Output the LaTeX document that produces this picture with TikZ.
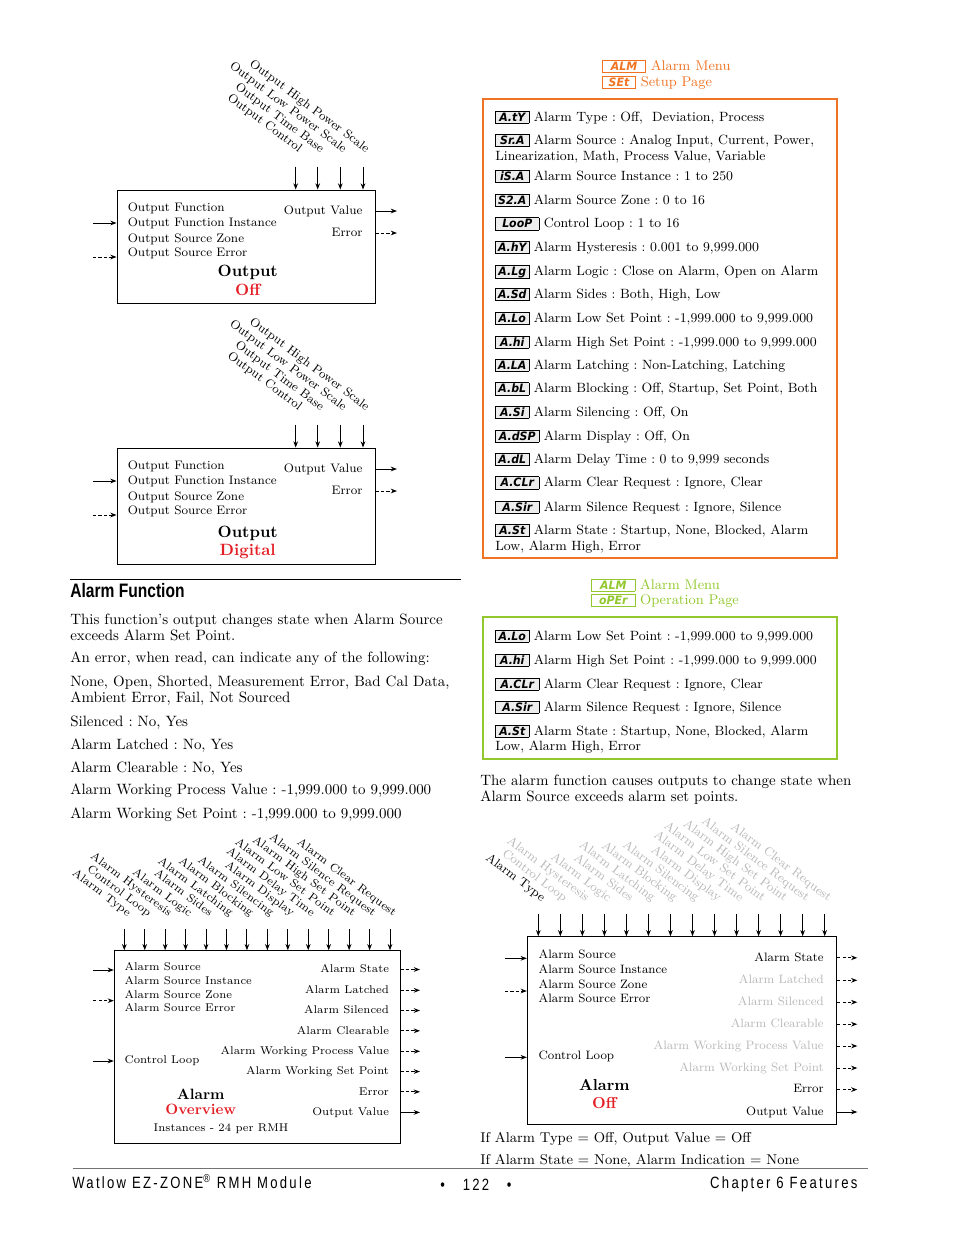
\documentclass[tikz,border=0pt]{standalone}
\usepackage{fontspec}
\newfontfamily\segfont[FakeStretch=0.95]{DejaVu Sans}
\newfontfamily\headfont[FakeStretch=0.8]{Liberation Sans}
\newfontfamily\footfont[FakeStretch=0.8,LetterSpace=14]{Liberation Sans}
\usetikzlibrary{positioning,arrows.meta,fit}
\definecolor{almred}{RGB}{227,30,36}
\definecolor{setorange}{RGB}{240,115,35}
\definecolor{opgreen}{RGB}{146,200,45}
\definecolor{dim}{gray}{0.72}
\definecolor{segbg}{gray}{0.93}
\frenchspacing
% display prompt: frame/letter colour, fill, width, letters
\newcommand{\segicon}[4]{{\setlength{\fboxsep}{0.6pt}\setlength{\fboxrule}{0.45pt}%
  \fcolorbox{#1}{#2}{\makebox[#3][c]{\rule[-0.6pt]{0pt}{6.2pt}\color{#1}\segfont\bfseries\itshape\fontsize{7.4}{7}\selectfont #4}}}}
\newcommand{\segN}[1]{\segicon{black}{segbg}{19.7pt}{#1}}
\newcommand{\segW}[1]{\segicon{black}{segbg}{26.1pt}{#1}}
\tikzset{
  blk/.style={draw, line width=0.6pt, inner sep=0pt},
  arr/.style={-{Stealth[length=4pt,width=3pt]}, line width=0.6pt},
  darr/.style={arr, dash pattern=on 2pt off 1.5pt},
  olbl/.style={font=\fontsize{7.9}{9}\selectfont, inner sep=0pt},
  albl/.style={font=\fontsize{7.2}{8}\selectfont, inner sep=0pt},
  blbl/.style={font=\fontsize{7.8}{9}\selectfont, inner sep=0pt},
  ttl/.style={font=\fontsize{10.5}{11}\selectfont\bfseries, inner sep=0pt},
  attl/.style={font=\fontsize{9.6}{10}\selectfont\bfseries, inner sep=0pt},
  body/.style={font=\fontsize{9.6}{11}\selectfont, inner sep=0pt, anchor=mid west},
  lst/.style={font=\fontsize{8.6}{10}\selectfont, inner sep=0pt, anchor=mid west},
  menu/.style={font=\fontsize{9}{10}\selectfont, inner sep=0pt, anchor=mid west}
}
\begin{document}
\begin{tikzpicture}[x=0.6415pt, y=-0.6415pt]
  \useasboundingbox (0,0) rectangle (954,1235);

  % output blocks
  \foreach \nm/\dy/\ex/\mode in {oa/0/0/Off, ob/258/3/Digital}{
    \begin{scope}[shift={(0,\dy)}]
      \node[blk, fit={(117,190) (375,{303+\ex})}] (\nm) {};
      \node[olbl, anchor=mid west] (\nm-f) at (127.5,207.7) {Output Function};
      \node[olbl, anchor=mid west] (\nm-fi) at (127.5,223.5) {Output Function Instance};
      \node[olbl, anchor=mid west] (\nm-sz) at (127.5,238.7) {Output Source Zone};
      \node[olbl, anchor=mid west] (\nm-se) at (127.5,253.5) {Output Source Error};
      \node[olbl, anchor=mid east] (\nm-v) at (362.7,211) {Output Value};
      \node[olbl, anchor=mid east] (\nm-e) at (362.7,233) {Error};
      \node[ttl] (\nm-t) at (247.7,{272.7+\ex}) {Output};
      \node[ttl, text=almred] (\nm-m) at (247.7,{290+\ex}) {\mode};
      \coordinate (\nm-i1) at (93,223);
      \coordinate (\nm-i2) at (93,257);
      \coordinate (\nm-o1) at (397,211);
      \coordinate (\nm-o2) at (397,233);
      \draw[arr] (\nm-i1) -- (\nm-i1 -| \nm.west);
      \draw[darr] (\nm-i2) -- (\nm-i2 -| \nm.west);
      \draw[arr] (\nm-o1 -| \nm.east) -- (\nm-o1);
      \draw[darr] (\nm-o2 -| \nm.east) -- (\nm-o2);
      \foreach \x/\lab [count=\k] in {295.7/Output Control, 317.7/Output Time Base,
          340.3/Output Low Power Scale, 363/Output High Power Scale}{
        \coordinate (\nm-p\k) at (\x,166.7);
        \draw[arr] (\nm-p\k) -- (\nm-p\k |- \nm.north);
        \node[olbl, rotate=-37, anchor=base east] (\nm-pl\k) at ({\x+3},153.2) {\lab};
      }
    \end{scope}
  }

  % alarm function text
  \draw[line width=0.6pt] (70,579) -- (461,579);
  \node[inner sep=0pt, anchor=mid west, font=\headfont\bfseries\fontsize{12.5}{13}\selectfont] (hd) at (70,594) {Alarm Function};
  \node[body] (t1) at (70,621.5) {This function's output changes state when Alarm Source};
  \node[body] (t2) at (70,637.5) {exceeds Alarm Set Point.};
  \node[body] (t3) at (70,659.5) {An error, when read, can indicate any of the following:};
  \node[body] (t4) at (70,683.3) {None, Open, Shorted, Measurement Error, Bad Cal Data,};
  \node[body] (t5) at (70,699.5) {Ambient Error, Fail, Not Sourced};
  \node[body] (t6) at (70,723.5) {Silenced : No, Yes};
  \node[body] (t7) at (70,746) {Alarm Latched : No, Yes};
  \node[body] (t8) at (70,769) {Alarm Clearable : No, Yes};
  \node[body] (t9) at (70,791.5) {Alarm Working Process Value : -1,999.000 to 9,999.000};
  \node[body] (t10) at (70,815.5) {Alarm Working Set Point : -1,999.000 to 9,999.000};

  % setup page menu
  \node[menu, text=setorange] (sh1) at (601.7,66.7) {\segicon{setorange}{white}{26.1pt}{ALM} Alarm Menu};
  \node[menu, text=setorange] (sh2) at (601.7,82.7) {\segicon{setorange}{white}{19.7pt}{SEt} Setup Page};
  \node[draw=setorange, line width=1.4pt, inner sep=0pt, fit={(482.7,99) (837.3,557.7)}] (setup) {};
  \node[lst] (s1) at (495,117.7) {\segN{A.tY} Alarm Type : Off,\ \ Deviation, Process};
  \node[lst] (s2) at (495,141) {\segN{Sr.A} Alarm Source : Analog Input, Current, Power,};
  \node[lst] (s2b) at (495,157.5) {Linearization, Math, Process Value, Variable};
  \node[lst] (s3) at (495,177) {\segN{iS.A} Alarm Source Instance : 1 to 250};
  \node[lst] (s4) at (495,200.7) {\segN{S2.A} Alarm Source Zone : 0 to 16};
  \node[lst] (s5) at (495,224.3) {\segW{LooP} Control Loop : 1 to 16};
  \node[lst] (s6) at (495,248) {\segN{A.hY} Alarm Hysteresis : 0.001 to 9,999.000};
  \node[lst] (s7) at (495,271.7) {\segN{A.Lg} Alarm Logic : Close on Alarm, Open on Alarm};
  \node[lst] (s8) at (495,295) {\segN{A.Sd} Alarm Sides : Both, High, Low};
  \node[lst] (s9) at (495,319) {\segN{A.Lo} Alarm Low Set Point : -1,999.000 to 9,999.000};
  \node[lst] (s10) at (495,342.7) {\segN{A.hi} Alarm High Set Point : -1,999.000 to 9,999.000};
  \node[lst] (s11) at (495,365.7) {\segN{A.LA} Alarm Latching : Non-Latching, Latching};
  \node[lst] (s12) at (495,389.3) {\segN{A.bL} Alarm Blocking : Off, Startup, Set Point, Both};
  \node[lst] (s13) at (495,412.7) {\segN{A.Si} Alarm Silencing : Off, On};
  \node[lst] (s14) at (495,436.7) {\segW{A.dSP} Alarm Display : Off, On};
  \node[lst] (s15) at (495,460) {\segN{A.dL} Alarm Delay Time : 0 to 9,999 seconds};
  \node[lst] (s16) at (495,483.3) {\segW{A.CLr} Alarm Clear Request : Ignore, Clear};
  \node[lst] (s17) at (495,507.7) {\segW{A.Sir} Alarm Silence Request : Ignore, Silence};
  \node[lst] (s18) at (495,531) {\segN{A.St} Alarm State : Startup, None, Blocked, Alarm};
  \node[lst] (s18b) at (495,546.7) {Low, Alarm High, Error};

  % operation page menu
  \node[menu, text=opgreen] (oh1) at (591,585.7) {\segicon{opgreen}{white}{26.1pt}{ALM} Alarm Menu};
  \node[menu, text=opgreen] (oh2) at (591,601) {\segicon{opgreen}{white}{26.1pt}{oPEr} Operation Page};
  \node[draw=opgreen, line width=1.4pt, inner sep=0pt, fit={(482.7,617.3) (837.3,759.3)}] (oper) {};
  \node[lst] (p1) at (495,636.7) {\segN{A.Lo} Alarm Low Set Point : -1,999.000 to 9,999.000};
  \node[lst] (p2) at (495,660.7) {\segN{A.hi} Alarm High Set Point : -1,999.000 to 9,999.000};
  \node[lst] (p3) at (495,684.7) {\segW{A.CLr} Alarm Clear Request : Ignore, Clear};
  \node[lst] (p4) at (495,707.7) {\segW{A.Sir} Alarm Silence Request : Ignore, Silence};
  \node[lst] (p5) at (495,731.7) {\segN{A.St} Alarm State : Startup, None, Blocked, Alarm};
  \node[lst] (p5b) at (495,747.5) {Low, Alarm High, Error};
  \node[body] (r1) at (480,782.3) {The alarm function causes outputs to change state when};
  \node[body] (r2) at (480,798.3) {Alarm Source exceeds alarm set points.};

  % alarm overview block
  \node[blk, fit={(114.3,950.7) (400,1143.3)}] (ao) {};
  \foreach \lab [count=\i from 0] in {Alarm Type, Control Loop, Alarm Hysteresis, Alarm Logic,
      Alarm Sides, Alarm Latching, Alarm Blocking, Alarm Silencing, Alarm Display,
      Alarm Delay Time, Alarm Low Set Point, Alarm High Set Point, Alarm Silence Request,
      Alarm Clear Request}{
    \coordinate (ao-p\i) at ({124.3+20.44*\i},929);
    \draw[arr] (ao-p\i) -- (ao-p\i |- ao.north);
    \node[albl, font=\fontsize{7.4}{8}\selectfont, rotate=-37, anchor=base east] (ao-pl\i) at ({127.8+20.44*\i},917) {\lab};
  }
  \node[albl, anchor=mid west] (ao-s1) at (124.3,966.7) {Alarm Source};
  \node[albl, anchor=mid west] (ao-s2) at (124.3,980.7) {Alarm Source Instance};
  \node[albl, anchor=mid west] (ao-s3) at (124.3,994.7) {Alarm Source Zone};
  \node[albl, anchor=mid west] (ao-s4) at (124.3,1008.3) {Alarm Source Error};
  \node[albl, anchor=mid west] (ao-cl) at (124.3,1060) {Control Loop};
  \foreach \lab/\y/\st [count=\i] in {Alarm State/969.5/darr, Alarm Latched/990.3/darr,
      Alarm Silenced/1010.5/darr, Alarm Clearable/1030.8/darr,
      Alarm Working Process Value/1051.3/darr, Alarm Working Set Point/1071.5/darr,
      Error/1091.8/darr, Output Value/1112.4/arr}{
    \node[albl, anchor=mid east] (ao-r\i) at (389.3,\y) {\lab};
    \coordinate (ao-o\i) at (420,\y);
    \draw[\st] (ao-o\i -| ao.east) -- (ao-o\i);
  }
  \coordinate (ao-i1) at (93.3,970);
  \coordinate (ao-i2) at (93.3,1000.7);
  \coordinate (ao-i3) at (93.3,1061);
  \draw[arr] (ao-i1) -- (ao-i1 -| ao.west);
  \draw[darr] (ao-i2) -- (ao-i2 -| ao.west);
  \draw[arr] (ao-i3) -- (ao-i3 -| ao.west);
  \node[attl] (ao-t) at (200.7,1094) {Alarm};
  \node[attl, text=almred] (ao-m) at (200.7,1109.3) {Overview};
  \node[albl] (ao-n) at (221,1129) {Instances - 24 per RMH};

  % alarm off block
  \node[blk, fit={(527.3,936.7) (836.7,1124.3)}] (af) {};
  \foreach \lab/\col [count=\i from 0] in {Alarm Type/black, Control Loop/dim,
      Alarm Hysteresis/dim, Alarm Logic/dim, Alarm Sides/dim, Alarm Latching/dim,
      Alarm Blocking/dim, Alarm Silencing/dim, Alarm Display/dim, Alarm Delay Time/dim,
      Alarm Low Set Point/dim, Alarm High Set Point/dim, Alarm Silence Request/dim,
      Alarm Clear Request/dim}{
    \coordinate (af-p\i) at ({538.3+22.03*\i},914);
    \draw[arr] (af-p\i) -- (af-p\i |- af.north);
    \node[blbl, font=\fontsize{8}{9}\selectfont, text=\col, rotate=-37, anchor=base east] (af-pl\i) at ({541.8+22.03*\i},902) {\lab};
  }
  \node[blbl, anchor=mid west] (af-s1) at (538.3,955) {Alarm Source};
  \node[blbl, anchor=mid west] (af-s2) at (538.3,970) {Alarm Source Instance};
  \node[blbl, anchor=mid west] (af-s3) at (538.3,985) {Alarm Source Zone};
  \node[blbl, anchor=mid west] (af-s4) at (538.3,999) {Alarm Source Error};
  \node[blbl, anchor=mid west] (af-cl) at (538.3,1055.7) {Control Loop};
  \foreach \lab/\y/\col/\st [count=\i] in {Alarm State/957.8/black/darr,
      Alarm Latched/980.3/dim/darr, Alarm Silenced/1002.2/dim/darr,
      Alarm Clearable/1024.2/dim/darr, Alarm Working Process Value/1046/dim/darr,
      Alarm Working Set Point/1068/dim/darr, Error/1089.6/black/darr,
      Output Value/1112/black/arr}{
    \node[blbl, text=\col, anchor=mid east] (af-r\i) at (824,\y) {\lab};
    \coordinate (af-o\i) at (857.3,\y);
    \draw[\st] (af-o\i -| af.east) -- (af-o\i);
  }
  \coordinate (af-i1) at (505,958.3);
  \coordinate (af-i2) at (505,991);
  \coordinate (af-i3) at (505,1057.3);
  \draw[arr] (af-i1) -- (af-i1 -| af.west);
  \draw[darr] (af-i2) -- (af-i2 -| af.west);
  \draw[arr] (af-i3) -- (af-i3 -| af.west);
  \node[attl, font=\fontsize{10.2}{11}\selectfont\bfseries] (af-t) at (604.3,1085) {Alarm};
  \node[attl, font=\fontsize{10.2}{11}\selectfont\bfseries, text=almred] (af-m) at (604.3,1103.3) {Off};
  \node[body, font=\fontsize{9.1}{10}\selectfont] (n1) at (480,1139.5) {If Alarm Type = Off, Output Value = Off};
  \node[body, font=\fontsize{9.1}{10}\selectfont] (n2) at (480,1161.5) {If Alarm State = None, Alarm Indication = None};

  % footer
  \draw[black!55, line width=0.7pt] (72.7,1168.3) -- (868,1168.3);
  \node[inner sep=0pt, anchor=mid west, font=\footfont\fontsize{10.5}{11}\selectfont] (f1) at (72,1185) {Watlow EZ-ZONE\textsuperscript{®} RMH Module};
  \node[inner sep=0pt, font=\footfont\fontsize{10.5}{11}\selectfont] (f2) at (476,1185) {•\ \ \ 122\ \ \ •};
  \node[inner sep=0pt, anchor=mid east, font=\footfont\fontsize{10.5}{11}\selectfont] (f3) at (857.7,1185) {Chapter 6 Features};
\end{tikzpicture}
\end{document}
